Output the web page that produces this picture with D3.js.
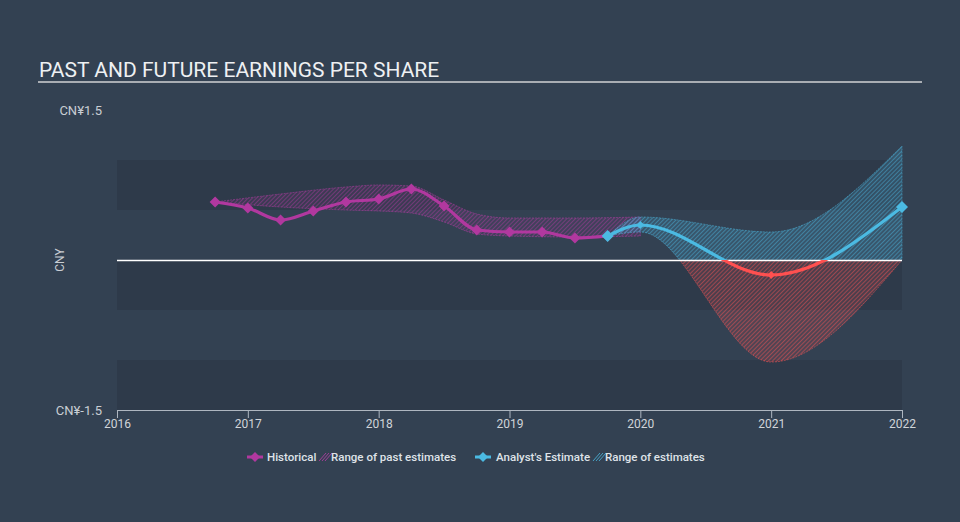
<!DOCTYPE html>
<html><head><meta charset="utf-8">
<script src="https://cdn.jsdelivr.net/npm/d3@7"></script>
<style>
html,body{margin:0;padding:0;background:#334152;}
svg{display:block;font-family:Roboto,"Open Sans",sans-serif;}
</style></head>
<body><svg id="c" width="960" height="522"></svg>
<script>
// ---- data ----
const yearTicks = [2016, 2017, 2018, 2019, 2020, 2021, 2022];
const yTickValues = [1.5, -1.5];
const yTickLabels = ["CN¥1.5", "CN¥-1.5"];
const histDates = [2016.75, 2017.0, 2017.25, 2017.5, 2017.75, 2018.0, 2018.25, 2018.5, 2018.75, 2019.0, 2019.25, 2019.5, 2019.75];
const histEps   = [0.58, 0.52, 0.40, 0.49, 0.58, 0.61, 0.71, 0.54, 0.30, 0.28, 0.28, 0.22, 0.24];
const pastRangeDates = [2016.75, 2017.25, 2017.75, 2018.0, 2018.25, 2018.5, 2018.75, 2019.0, 2019.5, 2020.0];
const pastHigh = [0.58, 0.66, 0.73, 0.75, 0.74, 0.60, 0.46, 0.42, 0.42, 0.43];
const pastLow  = [0.58, 0.53, 0.50, 0.49, 0.47, 0.38, 0.26, 0.24, 0.23, 0.24];
const estDates = [2019.75, 2020.0, 2021.0, 2022.0];
const estEps   = [0.24, 0.35, -0.15, 0.53];
const estHigh  = [0.24, 0.43, 0.28, 1.14];
const estLow   = [0.24, 0.28, -1.02, 0.0];

const svg = d3.select("#c");
const W = 960, H = 522;
const x = d3.scaleLinear().domain([2016, 2022]).range([117, 902]);
const y = d3.scaleLinear().domain([-1.5, 1.5]).range([410, 110]);

const defs = svg.append("defs");
function hatch(id, color, bg) {
  const p = defs.append("pattern").attr("id", id).attr("patternUnits", "userSpaceOnUse")
    .attr("width", 3).attr("height", 3).attr("patternTransform", "rotate(45)");
  p.append("rect").attr("width", 3).attr("height", 3).attr("fill", bg);
  p.append("line").attr("x1", 0).attr("y1", 0).attr("x2", 0).attr("y2", 3)
    .attr("stroke", color).attr("stroke-width", 1.2);
}
hatch("hPink", "rgba(190,60,170,0.7)", "rgba(190,60,170,0.10)");
hatch("hBlue", "rgba(75,185,225,0.75)", "rgba(75,185,225,0.18)");
hatch("hRed", "rgba(255,85,85,0.75)", "rgba(255,85,85,0.15)");

defs.append("clipPath").attr("id", "above").append("rect")
  .attr("x", 0).attr("y", 0).attr("width", W).attr("height", y(0));
defs.append("clipPath").attr("id", "below").append("rect")
  .attr("x", 0).attr("y", y(0)).attr("width", W).attr("height", H - y(0));

// background
svg.append("rect").attr("width", W).attr("height", H).attr("fill", "#334152");

// bands
const bandEdges = [[1.0, 0.5], [0.0, -0.5], [-1.0, -1.5]];
svg.append("g").selectAll("rect").data(bandEdges).join("rect")
  .attr("x", x(2016)).attr("width", x(2022) - x(2016))
  .attr("y", d => y(d[0])).attr("height", d => y(d[1]) - y(d[0]))
  .attr("fill", "#2e3a4a");

// title
svg.append("text").attr("x", 39).attr("y", 77).attr("fill", "#eef0f2")
  .attr("font-size", 21).text("PAST AND FUTURE EARNINGS PER SHARE");
svg.append("line").attr("x1", 38).attr("x2", 922).attr("y1", 82).attr("y2", 82)
  .attr("stroke", "#a9adb3").attr("stroke-width", 2);

// y labels
svg.append("g").selectAll("text").data(yTickValues).join("text")
  .attr("x", 102).attr("y", d => y(d)).attr("dy", "0.35em").attr("text-anchor", "end")
  .attr("fill", "#c9ced4").attr("font-size", 13).text((d, i) => yTickLabels[i]);
svg.append("text").attr("transform", `translate(64,${y(0)}) rotate(-90)`)
  .attr("text-anchor", "middle").attr("fill", "#c9ced4").attr("font-size", 12).text("CNY");

// ranges
const area = (dates, lo, hi) => d3.area().curve(d3.curveMonotoneX)
  .x((d, i) => x(dates[i])).y0((d, i) => y(lo[i])).y1((d, i) => y(hi[i]))(dates);
svg.append("path").attr("d", area(pastRangeDates, pastLow, pastHigh))
  .attr("fill", "url(#hPink)").attr("stroke", "rgba(190,60,170,0.6)").attr("stroke-width", 0.8)
  .attr("stroke-dasharray", "2,1");
const estArea = area(estDates, estLow, estHigh);
svg.append("path").attr("d", estArea).attr("clip-path", "url(#above)")
  .attr("fill", "url(#hBlue)").attr("stroke", "rgba(75,185,225,0.6)").attr("stroke-width", 0.8)
  .attr("stroke-dasharray", "2,1");
svg.append("path").attr("d", estArea).attr("clip-path", "url(#below)")
  .attr("fill", "url(#hRed)").attr("stroke", "rgba(255,85,85,0.6)").attr("stroke-width", 0.8)
  .attr("stroke-dasharray", "2,1");

// zero line
svg.append("line").attr("x1", x(2016)).attr("x2", x(2022)).attr("y1", y(0) + 0.5).attr("y2", y(0) + 0.5)
  .attr("stroke", "#ffffff").attr("stroke-width", 1.5);

// lines
const line = (dates, vals) => d3.line().curve(d3.curveMonotoneX)
  .x((d, i) => x(dates[i])).y((d, i) => y(vals[i]))(dates);
svg.append("path").attr("d", line(histDates, histEps)).attr("fill", "none")
  .attr("stroke", "#b1389f").attr("stroke-width", 3.2);
const estLine = line(estDates, estEps);
svg.append("path").attr("d", estLine).attr("clip-path", "url(#above)").attr("fill", "none")
  .attr("stroke", "#4bbae2").attr("stroke-width", 3.2);
svg.append("path").attr("d", estLine).attr("clip-path", "url(#below)").attr("fill", "none")
  .attr("stroke", "#ff5050").attr("stroke-width", 3.2);

// markers
const diamond = s => `M0,${-s}L${s},0L0,${s}L${-s},0Z`;
svg.append("g").selectAll("path").data(histDates).join("path")
  .attr("transform", (d, i) => `translate(${x(d)},${y(histEps[i])})`)
  .attr("d", diamond(5.5)).attr("fill", "#b1389f");
svg.append("g").selectAll("path").data(estDates).join("path")
  .attr("transform", (d, i) => `translate(${x(d)},${y(estEps[i])})`)
  .attr("d", (d, i) => diamond(i === 0 || i === estDates.length - 1 ? 6 : 4))
  .attr("fill", (d, i) => estEps[i] < 0 ? "#ff5050" : "#4bbae2");

// x axis
const ax = svg.append("g").attr("transform", `translate(0,${y(-1.5)})`)
  .call(d3.axisBottom(x).tickValues(yearTicks).tickFormat(d3.format("d")).tickSize(8).tickSizeOuter(0));
ax.select(".domain").attr("stroke", "#aeb6c0");
ax.selectAll(".tick line").attr("stroke", "#aeb6c0");
ax.selectAll(".tick text").attr("fill", "#d0d4d9").attr("font-size", 12)
  .attr("font-family", "Roboto, sans-serif").attr("dy", "0.55em");

// legend
const lg = svg.append("g").attr("font-size", 11.5).attr("font-weight", 500).attr("fill", "#dfe3e8");
function legMarker(cx, color) {
  lg.append("line").attr("x1", cx - 8).attr("x2", cx + 8).attr("y1", 457).attr("y2", 457)
    .attr("stroke", color).attr("stroke-width", 3);
  lg.append("path").attr("transform", `translate(${cx},457)`).attr("d", diamond(5)).attr("fill", color);
}
function legHatch(x0, color) {
  for (let k = 0; k < 3; k++) {
    lg.append("line").attr("x1", x0 + k * 3).attr("y1", 461).attr("x2", x0 + k * 3 + 7).attr("y2", 453)
      .attr("stroke", color).attr("stroke-width", 1);
  }
}
legMarker(255, "#b1389f");
lg.append("text").attr("x", 267).attr("y", 457).attr("dy", "0.35em").text("Historical");
legHatch(319, "rgba(190,60,170,0.8)");
lg.append("text").attr("x", 331).attr("y", 457).attr("dy", "0.35em").text("Range of past estimates");
legMarker(483, "#4bbae2");
lg.append("text").attr("x", 496).attr("y", 457).attr("dy", "0.35em").text("Analyst's Estimate");
legHatch(593, "rgba(75,185,225,0.8)");
lg.append("text").attr("x", 605).attr("y", 457).attr("dy", "0.35em").text("Range of estimates");
</script></body></html>
